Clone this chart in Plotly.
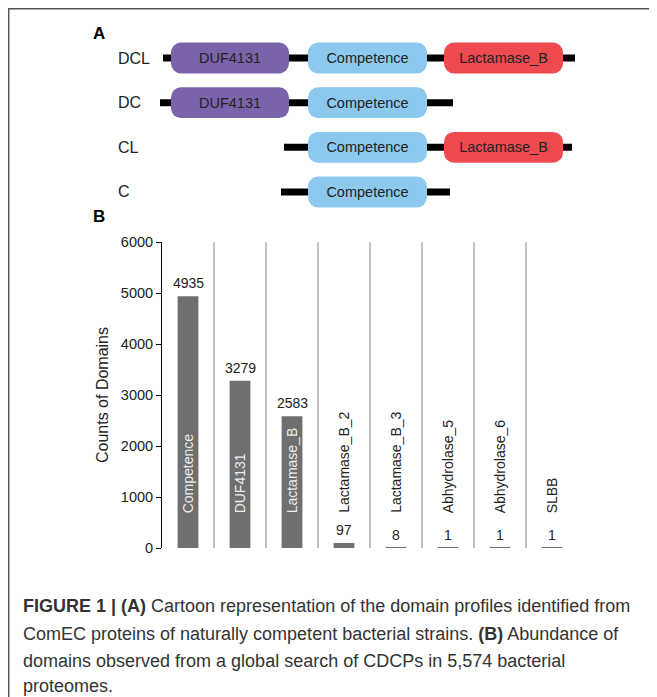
import plotly.graph_objects as go

# ---------------- data ----------------
# Panel A: domain architecture cartoon (arbitrary position units)
proteins = ["DCL", "DC", "CL", "C"]
backbone_start = [163, 160, 284, 281]
backbone_end = [575, 453, 572, 450]

duf_proteins = ["DCL", "DC"]
duf_start = [171, 171]
duf_end = [289, 289]

comp_proteins = ["DCL", "DC", "CL", "C"]
comp_start = [308, 308, 308, 308]
comp_end = [427, 427, 427, 427]

lact_proteins = ["DCL", "CL"]
lact_start = [444, 444]
lact_end = [563, 563]

# Panel B: domain counts
domains = ["Competence", "DUF4131", "Lactamase_B", "Lactamase_B_2",
           "Lactamase_B_3", "Abhydrolase_5", "Abhydrolase_6", "SLBB"]
counts = [4935, 3279, 2583, 97, 8, 1, 1, 1]
y_ticks = [0, 1000, 2000, 3000, 4000, 5000, 6000]

caption_lines = [
    "<b>FIGURE 1 | (A)</b> Cartoon representation of the domain profiles identified from",
    "ComEC proteins of naturally competent bacterial strains. <b>(B)</b> Abundance of",
    "domains observed from a global search of CDCPs in 5,574 bacterial",
    "proteomes.",
]

# ---------------- layout helpers ----------------
OFF = 8  # page body margin
W, H = 657 - OFF, 697 - OFF
def px(x):
    return (x - OFF) / W
def py(y):
    return 1 - (y - OFF) / H

FONT = "Liberation Sans, Arial, sans-serif"
DARK = "#222222"

fig = go.Figure()

# backbone lines
fig.add_trace(go.Bar(
    y=proteins, base=backbone_start,
    x=[e - s for s, e in zip(backbone_start, backbone_end)],
    orientation="h", width=0.157, marker=dict(color="black", line=dict(width=0)),
    xaxis="x2", yaxis="y2", hoverinfo="skip", showlegend=False,
))

def domain_trace(ys, starts, ends, name, color):
    return go.Bar(
        y=ys, base=starts, x=[e - s for s, e in zip(starts, ends)],
        orientation="h", width=0.69,
        marker=dict(color=color, cornerradius=10, line=dict(width=0)),
        text=[name] * len(ys), textposition="inside", insidetextanchor="middle",
        textangle=0, insidetextfont=dict(family=FONT, size=14.5, color=DARK),
        constraintext="none",
        xaxis="x2", yaxis="y2", hoverinfo="skip", showlegend=False,
    )

fig.add_trace(domain_trace(duf_proteins, duf_start, duf_end, "DUF4131", "#7B63AB"))
fig.add_trace(domain_trace(comp_proteins, comp_start, comp_end, "Competence", "#8DC9EF"))
fig.add_trace(domain_trace(lact_proteins, lact_start, lact_end, "Lactamase_B", "#EF4A50"))

# bar chart B
fig.add_trace(go.Bar(
    x=domains, y=counts, width=0.4,
    marker=dict(color="#6f6f6f", line=dict(width=0)),
    xaxis="x", yaxis="y", hoverinfo="skip", showlegend=False,
))

annotations = []
# row labels panel A
for p in proteins:
    annotations.append(dict(
        x=116, y=p, xref="x2", yref="y2", text=p, showarrow=False,
        xanchor="left", yanchor="middle", font=dict(family=FONT, size=16, color=DARK),
    ))

# value labels and category labels panel B
label_base = 640
for d, c in zip(domains, counts):
    annotations.append(dict(
        x=d, y=c, xref="x", yref="y", text=str(c), showarrow=False,
        xanchor="center", yanchor="bottom", yshift=3,
        font=dict(family=FONT, size=14, color=DARK),
    ))
    annotations.append(dict(
        x=d, y=label_base, xref="x", yref="y", text=d, showarrow=False,
        textangle=-90, xanchor="center", yanchor="bottom",
        font=dict(family=FONT, size=14, color="#ececec" if c > 2000 else DARK),
    ))

# panel letters
annotations.append(dict(x=px(91), y=py(33), xref="paper", yref="paper", text="<b>A</b>",
                        showarrow=False, xanchor="left", yanchor="middle",
                        font=dict(family=FONT, size=17, color="black")))
annotations.append(dict(x=px(91), y=py(216.5), xref="paper", yref="paper", text="<b>B</b>",
                        showarrow=False, xanchor="left", yanchor="middle",
                        font=dict(family=FONT, size=17, color="black")))

# caption
cap_y = [606, 633.5, 660.5, 686]
for line, yy in zip(caption_lines, cap_y):
    annotations.append(dict(x=px(21), y=py(yy), xref="paper", yref="paper", text=line,
                            showarrow=False, xanchor="left", yanchor="middle",
                            font=dict(family=FONT, size=18, color="#333333")))

shapes = [
    dict(type="line", xref="paper", yref="paper", x0=px(8), x1=1.02, y0=py(8.7), y1=py(8.7),
         line=dict(color="#555555", width=1.5)),
    dict(type="line", xref="paper", yref="paper", x0=px(8.7), x1=px(8.7), y0=py(8), y1=-0.02,
         line=dict(color="#555555", width=1.5)),
]

fig.update_layout(
    width=W, height=H, margin=dict(l=0, r=0, t=0, b=0),
    paper_bgcolor="white", plot_bgcolor="rgba(0,0,0,0)",
    barmode="overlay", showlegend=False,
    font=dict(family=FONT, color=DARK),
    xaxis=dict(domain=[px(162), px(578)], type="category", categoryorder="array",
               categoryarray=domains, range=[-0.5, 7.5], showticklabels=False,
               tickson="boundaries", ticks="", showgrid=True, gridcolor="#c0c0c0",
               gridwidth=1.5, showline=False, zeroline=False, automargin=False,
               fixedrange=True),
    yaxis=dict(domain=[py(548), py(242)], range=[0, 6000], tickvals=y_ticks,
               ticks="outside", ticklen=5, tickcolor="black", tickwidth=1,
               showline=True, linecolor="black", linewidth=1, showgrid=False,
               zeroline=False, automargin=False,
               tickfont=dict(family=FONT, size=14.5, color=DARK),
               title=dict(text="Counts of Domains", standoff=8,
                          font=dict(family=FONT, size=16, color=DARK)),
               fixedrange=True),
    xaxis2=dict(domain=[0, 1], range=[OFF, 657], visible=False, fixedrange=True),
    yaxis2=dict(domain=[py(214.3), py(35.7)], type="category", categoryorder="array",
                categoryarray=proteins, range=[3.5, -0.5], visible=False, fixedrange=True),
    annotations=annotations,
    shapes=shapes,
)

fig.write_html("out.html")
